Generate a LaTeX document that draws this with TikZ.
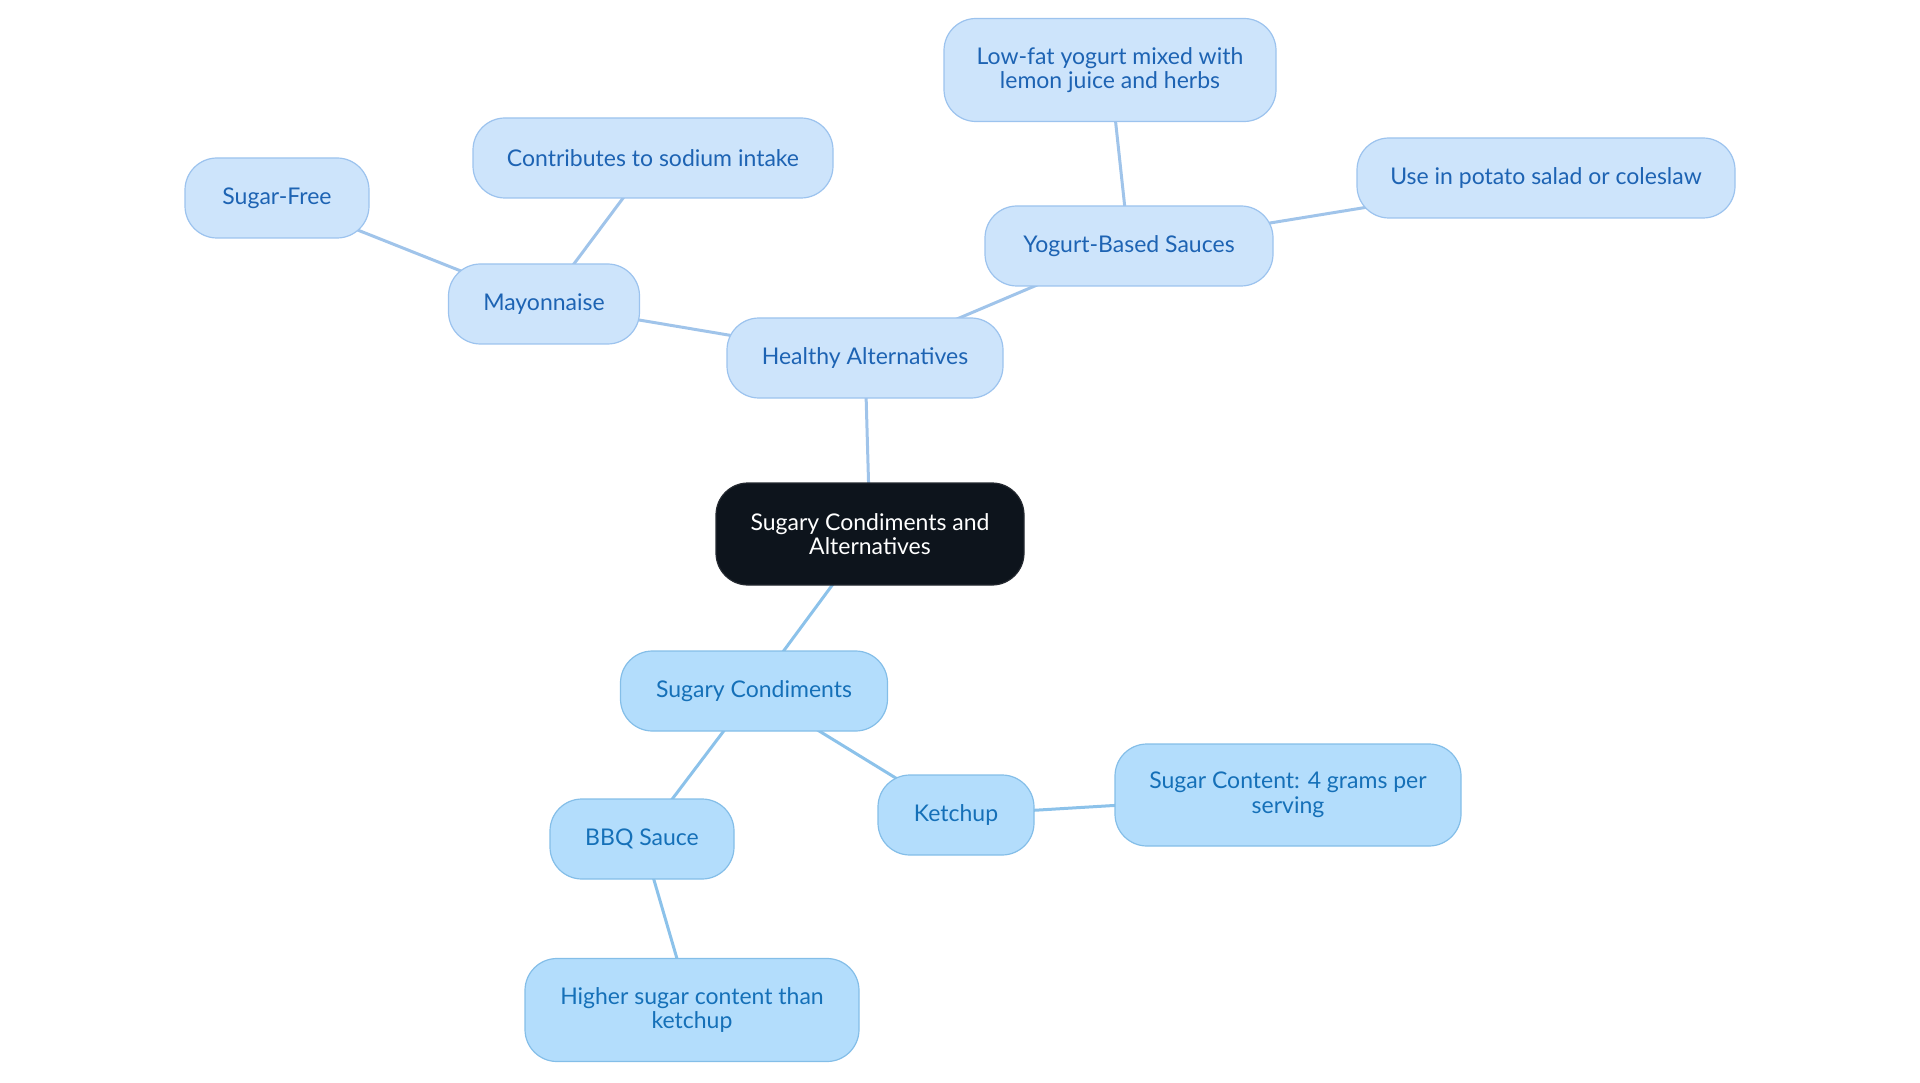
\documentclass[tikz,border=0pt]{standalone}
\usepackage{fontspec}
\setmainfont{Lato}
\usetikzlibrary{backgrounds}
\definecolor{hafill}{HTML}{CDE4FB}
\definecolor{hadraw}{HTML}{9CC3EE}
\definecolor{hatext}{HTML}{1D63B3}
\definecolor{scfill}{HTML}{B3DDFC}
\definecolor{scdraw}{HTML}{84BEE8}
\definecolor{sctext}{HTML}{1570B8}
\definecolor{rootfill}{HTML}{0D141C}
\definecolor{haline}{HTML}{A0C4EA}
\definecolor{scline}{HTML}{8CC2EA}
\tikzset{
  base/.style={rounded corners=32pt, line width=1.2pt, align=center,
    font=\fontsize{23}{24.5}\selectfont, inner sep=0pt, minimum height=80pt},
  habox/.style={base, fill=hafill, draw=hadraw, text=hatext},
  scbox/.style={base, fill=scfill, draw=scdraw, text=sctext},
  rootbox/.style={base, fill=rootfill, draw=rootfill!80!gray, text=white},
  haedge/.style={draw=haline, line width=3pt},
  scedge/.style={draw=scline, line width=3pt}
}
\begin{document}
\begin{tikzpicture}[x=1pt,y=-1pt]
\useasboundingbox (0,0) rectangle (1920,1083);
\node[rootbox, minimum width=308pt, minimum height=102pt] (root) at (870,534) {Sugary Condiments and\\Alternatives};
\node[habox, minimum width=276pt] (ha) at (865,358) {Healthy Alternatives};
\node[habox, minimum width=288pt] (ybs) at (1129,246) {Yogurt-Based Sauces};
\node[habox, minimum width=332pt, minimum height=103pt] (lf) at (1110,70) {Low-fat yogurt mixed with\\lemon juice and herbs};
\node[habox, minimum width=378pt] (up) at (1546,178) {Use in potato salad or coleslaw};
\node[habox, minimum width=191pt] (may) at (544,304) {Mayonnaise};
\node[habox, minimum width=360pt] (cs) at (653,158) {Contributes to sodium intake};
\node[habox, minimum width=184pt] (sf) at (277,198) {Sugar-Free};
\node[scbox, minimum width=267pt] (sc) at (754,691) {Sugary Condiments};
\node[scbox, minimum width=184pt] (bbq) at (642,839) {BBQ Sauce};
\node[scbox, minimum width=334pt, minimum height=103pt] (hs) at (692,1010) {Higher sugar content than\\ketchup};
\node[scbox, minimum width=156pt] (k) at (956,815) {Ketchup};
\node[scbox, minimum width=346pt, minimum height=102pt] (sct) at (1288,795) {Sugar Content: 4 grams per\\serving};
\begin{scope}[on background layer]
\draw[haedge] (root.center) -- (ha.center);
\draw[haedge] (ha.center) -- (ybs.center);
\draw[haedge] (ybs.center) -- (lf.center);
\draw[haedge] (ybs.center) -- (up.center);
\draw[haedge] (ha.center) -- (may.center);
\draw[haedge] (may.center) -- (cs.center);
\draw[haedge] (may.center) -- (sf.center);
\draw[scedge] (root.center) -- (sc.center);
\draw[scedge] (sc.center) -- (bbq.center);
\draw[scedge] (bbq.center) -- (hs.center);
\draw[scedge] (sc.center) -- (k.center);
\draw[scedge] (k.center) -- (sct.center);
\end{scope}
\end{tikzpicture}
\end{document}
